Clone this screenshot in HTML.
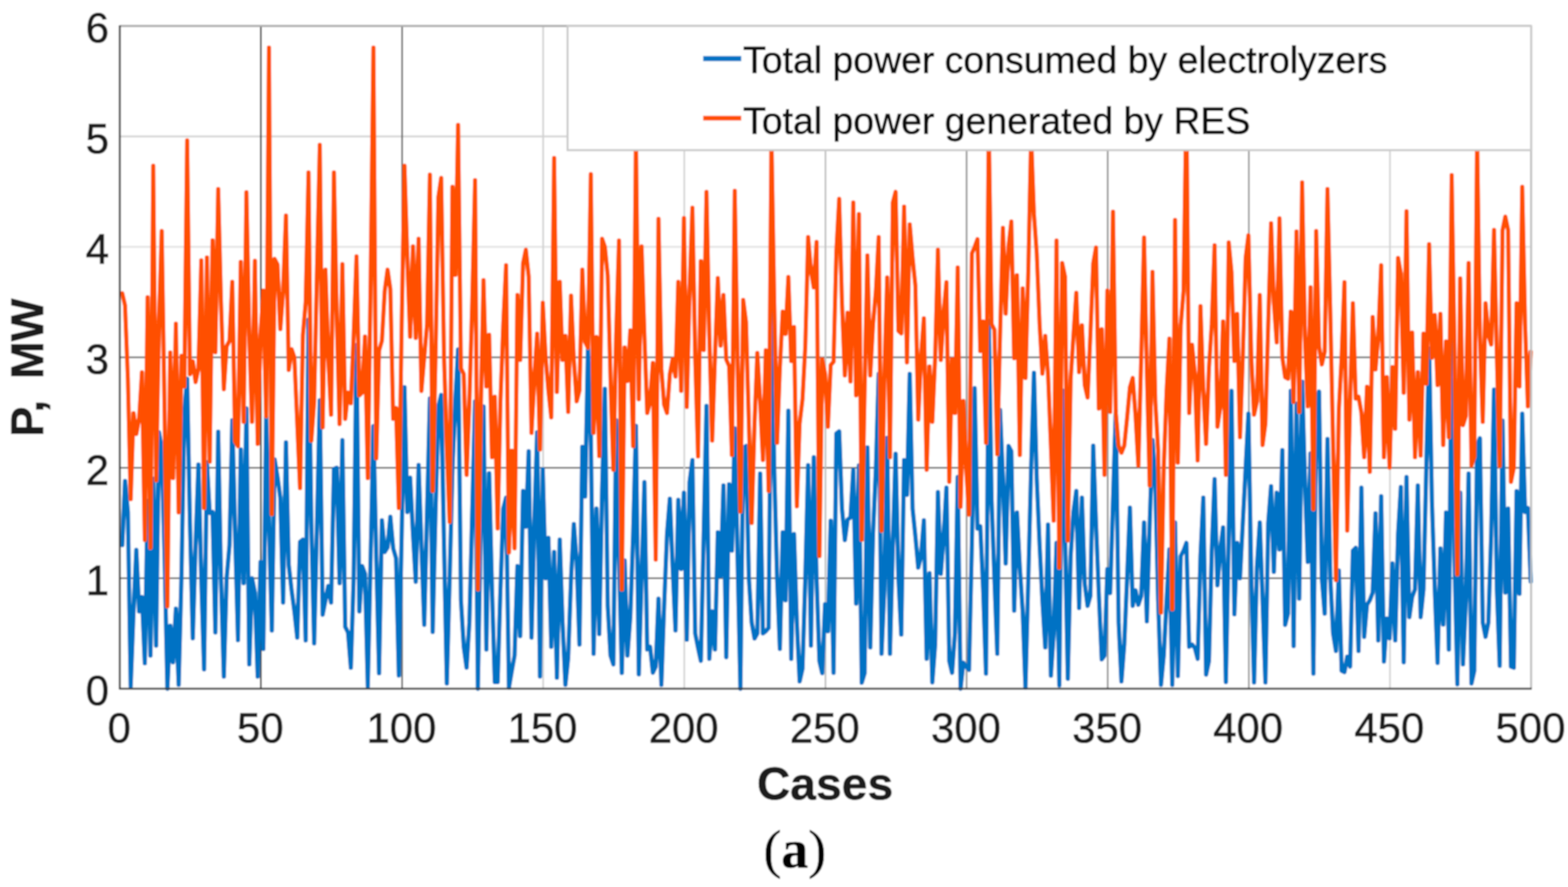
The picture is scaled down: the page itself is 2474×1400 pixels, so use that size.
<!DOCTYPE html>
<html><head><meta charset="utf-8"><title>Figure (a)</title>
<style>
html,body{margin:0;padding:0;background:#fff;}
body{width:2474px;height:1400px;overflow:hidden;}
svg{display:block;}
text{font-family:"Liberation Sans",sans-serif;fill:#1a1a1a;}
.tick{font-size:66px;stroke:#1a1a1a;stroke-width:1.1px;}
.lab{font-size:72px;font-weight:bold;fill:#1c1c1c;stroke:#1c1c1c;stroke-width:0.8px;}
.leg{font-size:59px;fill:#0a0a0a;stroke:#0a0a0a;stroke-width:0.9px;}
.cap{font-family:"Liberation Serif",serif;font-size:85px;fill:#000;stroke:#000;stroke-width:0.6px;}
</style></head><body>
<svg width="2474" height="1400" viewBox="0 0 2474 1400">
<defs><filter id="soft" x="0" y="0" width="2474" height="1400" filterUnits="userSpaceOnUse"><feGaussianBlur stdDeviation="0.8"/></filter></defs>
<g filter="url(#soft)">
<rect x="0" y="0" width="2474" height="1400" fill="#fff"/>
<g id="grid"><line x1="189.0" x2="2415.8" y1="215.3" y2="215.3" stroke="#d8d8d8" stroke-width="3.2"/><line x1="189.0" x2="2415.8" y1="389.7" y2="389.7" stroke="#e6e6e6" stroke-width="3.2"/><line x1="189.0" x2="2415.8" y1="564.0" y2="564.0" stroke="#606060" stroke-width="2.6"/><line x1="189.0" x2="2415.8" y1="738.3" y2="738.3" stroke="#606060" stroke-width="2.6"/><line x1="189.0" x2="2415.8" y1="912.7" y2="912.7" stroke="#606060" stroke-width="2.6"/><line y1="41.0" y2="1087.0" x1="411.7" x2="411.7" stroke="#303030" stroke-width="2.6"/><line y1="41.0" y2="1087.0" x1="634.4" x2="634.4" stroke="#626262" stroke-width="2.6"/><line y1="41.0" y2="1087.0" x1="857.0" x2="857.0" stroke="#d0d0d0" stroke-width="2.6"/><line y1="41.0" y2="1087.0" x1="1079.7" x2="1079.7" stroke="#d2d2d2" stroke-width="2.6"/><line y1="41.0" y2="1087.0" x1="1302.4" x2="1302.4" stroke="#bcbcbc" stroke-width="2.6"/><line y1="41.0" y2="1087.0" x1="1525.1" x2="1525.1" stroke="#8c8c8c" stroke-width="2.6"/><line y1="41.0" y2="1087.0" x1="1747.8" x2="1747.8" stroke="#8c8c8c" stroke-width="2.6"/><line y1="41.0" y2="1087.0" x1="1970.4" x2="1970.4" stroke="#969696" stroke-width="2.6"/><line y1="41.0" y2="1087.0" x1="2193.1" x2="2193.1" stroke="#d2d2d2" stroke-width="2.6"/></g>
<g fill="none" stroke-linejoin="round" stroke-linecap="round">
<polyline stroke="#0072c4" stroke-width="6.9" points="192.9,860.4 197.3,759.3 201.8,808.1 206.2,1083.5 210.7,965.0 215.1,868.0 219.6,965.0 224.0,942.3 228.5,1046.9 232.9,790.6 237.4,1034.7 241.8,755.8 246.3,1019.0 250.8,682.5 255.2,707.0 259.7,877.8 264.1,1087.0 268.6,987.6 273.0,1045.2 277.5,960.6 281.9,1080.9 286.4,905.7 290.8,651.2 295.3,598.0 299.7,825.5 304.2,1007.5 308.6,860.4 313.1,733.1 317.6,912.7 322.0,1056.5 326.5,729.6 330.9,809.8 335.4,808.1 339.8,998.1 344.3,681.5 348.7,912.7 353.2,1067.8 357.6,912.7 362.1,860.4 366.5,663.4 371.0,842.9 375.5,1010.3 379.9,709.4 384.4,920.5 388.8,644.7 393.3,1048.6 397.7,912.7 402.2,935.3 406.6,1067.8 411.1,887.0 415.5,1024.2 420.0,658.1 424.4,825.5 428.9,995.1 433.3,725.1 437.8,752.3 442.3,785.4 446.7,951.0 451.2,698.2 455.6,891.7 460.1,931.8 464.5,965.0 469.0,1006.3 473.4,855.1 477.9,851.6 482.3,1010.8 486.8,504.7 491.2,825.5 495.7,1015.5 500.2,825.5 504.6,632.0 509.1,970.2 513.5,947.5 518.0,924.9 522.4,951.0 526.9,740.1 531.3,738.3 535.8,920.5 540.2,694.8 544.7,989.4 549.1,998.1 553.6,1053.9 558.0,912.7 562.5,544.8 567.0,965.0 571.4,893.5 575.9,905.7 580.3,1083.5 584.8,877.8 589.2,672.6 593.7,877.8 598.1,1062.6 602.6,821.3 607.0,871.3 611.5,863.9 615.9,815.7 620.4,865.6 624.9,881.3 629.3,1066.1 633.8,842.9 638.2,611.1 642.7,808.1 647.1,754.0 651.6,842.9 656.0,918.2 660.5,734.0 664.9,860.4 669.4,986.2 673.8,808.1 678.3,629.0 682.7,997.4 687.2,808.1 691.7,642.5 696.1,623.3 700.6,860.4 705.0,1078.8 709.5,912.7 713.9,738.3 718.4,633.7 722.8,551.8 727.3,947.5 731.7,1020.8 736.2,1053.9 740.6,982.4 745.1,808.1 749.6,633.7 754.0,1087.0 758.5,825.5 762.9,641.6 767.4,1025.1 771.8,747.0 776.3,930.1 780.7,1076.5 785.2,1076.5 789.6,930.1 794.1,802.8 798.5,785.4 803.0,1085.3 807.5,1059.1 811.9,1034.7 816.4,893.5 820.8,1004.0 825.3,774.9 829.7,831.3 834.2,712.2 838.6,1006.3 843.1,825.5 847.5,682.5 852.0,1067.8 856.4,740.8 860.9,912.7 865.3,849.0 869.8,1020.8 874.3,871.3 878.7,1069.6 883.2,851.6 887.6,982.4 892.1,1080.9 896.5,1038.2 901.0,912.7 905.4,827.2 909.9,886.5 914.3,1017.3 918.8,705.2 923.2,783.7 927.7,549.2 932.2,686.0 936.6,1031.9 941.1,802.8 945.5,1000.7 950.0,773.2 954.4,613.7 958.9,956.2 963.3,1034.7 967.8,1048.6 972.2,663.4 976.7,877.8 981.1,1062.1 985.6,884.8 990.0,1034.7 994.5,973.7 999.0,842.9 1003.4,672.1 1007.9,1064.3 1012.3,912.7 1016.8,761.0 1021.2,1025.1 1025.7,1020.8 1030.1,1061.7 1034.6,1052.1 1039.0,944.9 1043.5,1080.9 1047.9,956.2 1052.4,842.9 1056.9,787.1 1061.3,895.2 1065.8,995.1 1070.2,788.9 1074.7,898.2 1079.1,777.6 1083.6,1009.6 1088.0,761.0 1092.5,726.1 1096.9,999.8 1101.4,1022.5 1105.8,1043.1 1110.3,842.9 1114.7,640.7 1119.2,1039.9 1123.7,965.0 1128.1,1025.1 1132.6,840.1 1137.0,909.2 1141.5,766.2 1145.9,1037.3 1150.4,764.5 1154.8,869.1 1159.3,676.1 1163.7,877.8 1168.2,1087.0 1172.6,707.0 1177.1,704.0 1181.6,912.7 1186.0,982.4 1190.5,1007.7 1194.9,999.8 1199.4,747.4 1203.8,999.8 1208.3,996.3 1212.7,991.1 1217.2,485.5 1221.6,738.3 1226.1,912.7 1230.5,1024.2 1235.0,840.1 1239.4,947.5 1243.9,648.2 1248.4,1039.9 1252.8,842.9 1257.3,982.4 1261.7,1075.5 1266.2,1055.6 1270.6,912.7 1275.1,734.1 1279.5,1019.0 1284.0,721.8 1288.4,912.7 1292.9,1043.4 1297.3,1062.6 1301.8,953.8 1306.3,996.3 1310.7,822.0 1315.2,1061.9 1319.6,684.3 1324.1,680.8 1328.5,802.8 1333.0,852.5 1337.4,820.3 1341.9,816.8 1346.3,741.8 1350.8,952.8 1355.2,734.8 1359.7,1077.6 1364.2,1062.6 1368.6,706.1 1373.1,1021.8 1377.5,842.9 1382.0,738.3 1386.4,590.2 1390.9,1031.9 1395.3,930.1 1399.8,691.3 1404.2,1031.9 1408.7,860.4 1413.1,716.2 1417.6,912.7 1422.0,1001.6 1426.5,726.1 1431.0,781.0 1435.4,590.2 1439.9,802.8 1444.3,846.4 1448.8,895.9 1453.2,877.8 1457.7,821.3 1462.1,1039.9 1466.6,904.8 1471.0,1077.0 1475.5,1017.3 1479.9,776.7 1484.4,905.7 1488.9,846.4 1493.3,769.7 1497.8,1043.4 1502.2,1061.9 1506.7,999.8 1511.1,753.0 1515.6,1087.0 1520.0,1046.0 1524.5,1052.1 1528.9,1057.4 1533.4,860.4 1537.8,612.8 1542.3,834.2 1546.7,830.7 1551.2,930.1 1555.7,1063.1 1560.1,506.5 1564.6,790.6 1569.0,912.7 1573.5,1031.9 1577.9,647.2 1582.4,755.8 1586.8,889.3 1591.3,704.0 1595.7,712.2 1600.2,963.9 1604.6,808.9 1609.1,895.2 1613.6,965.0 1618.0,1085.3 1622.5,912.7 1626.9,738.3 1631.4,588.4 1635.8,755.8 1640.3,860.4 1644.7,947.5 1649.2,1021.8 1653.6,827.9 1658.1,1066.4 1662.5,999.8 1667.0,856.9 1671.4,1081.8 1675.9,616.3 1680.4,842.9 1684.8,1071.3 1689.3,877.8 1693.7,808.1 1698.2,774.9 1702.6,959.7 1707.1,785.4 1711.5,921.4 1716.0,956.2 1720.4,940.6 1724.9,703.5 1729.3,825.5 1733.8,938.8 1738.3,1040.8 1742.7,1034.7 1747.2,898.2 1751.6,936.0 1756.1,790.6 1760.5,648.2 1765.0,982.4 1769.4,1075.5 1773.9,1017.3 1778.3,912.7 1782.8,801.1 1787.2,956.2 1791.7,931.8 1796.1,954.5 1800.6,940.6 1805.1,824.6 1809.5,980.7 1814.0,825.5 1818.4,694.8 1822.9,762.7 1827.3,947.5 1831.8,1080.9 1836.2,1034.7 1840.7,947.5 1845.1,867.3 1849.6,1080.9 1854.0,824.6 1858.5,1067.0 1863.0,877.8 1867.4,869.1 1871.9,856.9 1876.3,1020.8 1880.8,1017.3 1885.2,1022.5 1889.7,1039.9 1894.1,877.8 1898.6,785.4 1903.0,1064.7 1907.5,1043.4 1911.9,869.1 1916.4,756.3 1920.9,923.8 1925.3,869.1 1929.8,832.5 1934.2,1076.5 1938.7,842.9 1943.1,617.0 1947.6,969.5 1952.0,856.9 1956.5,912.7 1960.9,825.5 1965.4,738.3 1969.8,652.9 1974.3,912.7 1978.7,1077.1 1983.2,895.2 1987.7,824.6 1992.1,947.5 1996.6,1077.1 2001.0,825.5 2005.5,767.4 2009.9,902.6 2014.4,777.6 2018.8,867.3 2023.3,710.4 2027.7,986.2 2032.2,968.5 2036.6,617.0 2041.1,1019.7 2045.6,637.2 2050.0,944.9 2054.5,602.4 2058.9,755.8 2063.4,887.0 2067.8,715.7 2072.3,1063.1 2076.7,633.7 2081.2,618.0 2085.6,912.7 2090.1,968.5 2094.5,693.0 2099.0,912.7 2103.4,999.8 2107.9,1027.4 2112.4,900.5 2116.8,1058.6 2121.3,1060.8 2125.7,1036.4 2130.2,1052.1 2134.6,869.1 2139.1,864.7 2143.5,1027.4 2148.0,769.7 2152.4,1005.1 2156.9,954.5 2161.3,947.5 2165.8,935.3 2170.3,810.2 2174.7,1010.8 2179.2,783.1 2183.6,1044.1 2188.1,976.1 2192.5,1007.5 2197.0,889.3 2201.4,1010.8 2205.9,842.9 2210.3,768.7 2214.8,1045.2 2219.2,753.0 2223.7,974.0 2228.1,942.3 2232.6,930.1 2237.1,766.2 2241.5,974.0 2246.0,930.1 2250.4,738.3 2254.9,550.1 2259.3,790.6 2263.8,930.1 2268.2,1046.4 2272.7,865.6 2277.1,985.9 2281.6,808.9 2286.0,1025.1 2290.5,492.5 2295.0,877.8 2299.4,1080.0 2303.9,777.6 2308.3,1048.6 2312.8,947.5 2317.2,747.4 2321.7,1078.8 2326.1,1059.1 2330.6,703.5 2335.0,691.8 2339.5,982.4 2343.9,1005.1 2348.4,982.4 2352.8,842.9 2357.3,614.9 2361.8,930.1 2366.2,1050.9 2370.7,663.9 2375.1,935.3 2379.6,802.8 2384.0,1052.1 2388.5,1053.9 2392.9,775.3 2397.4,937.1 2401.8,652.9 2406.3,808.1 2410.7,802.0 2415.2,917.9"/>
<polyline stroke="#ff5004" stroke-width="6.8" points="192.9,462.9 197.3,482.1 201.8,598.9 206.2,787.8 210.7,652.2 215.1,685.0 219.6,659.9 224.0,587.7 228.5,852.3 232.9,469.2 237.4,864.6 241.8,261.7 246.3,758.2 250.8,511.7 255.2,364.6 259.7,651.2 264.1,956.9 268.6,556.3 273.0,754.7 277.5,511.0 281.9,808.8 286.4,561.6 290.8,610.0 295.3,221.6 299.7,590.8 304.2,570.3 308.6,603.1 313.1,581.4 317.6,410.8 322.0,801.8 326.5,406.4 330.9,728.6 335.4,379.4 339.8,556.0 344.3,298.3 348.7,476.8 353.2,614.4 357.6,546.6 362.1,537.9 366.5,444.8 371.0,696.5 375.5,704.2 379.9,413.4 384.4,665.8 388.8,303.5 393.3,529.1 397.7,665.8 402.2,411.6 406.6,700.7 411.1,529.1 415.5,458.7 420.0,657.1 424.4,75.2 428.9,811.4 433.3,408.7 437.8,417.6 442.3,519.4 446.7,459.4 451.2,340.2 455.6,583.9 460.1,551.1 464.5,564.0 469.0,668.6 473.4,770.4 477.9,529.1 482.3,476.8 486.8,272.2 491.2,695.4 495.7,633.7 500.2,424.5 504.6,228.6 509.1,674.5 513.5,425.6 518.0,564.0 522.4,654.5 526.9,272.2 531.3,494.3 535.8,669.3 540.2,416.9 544.7,661.1 549.1,619.6 553.6,636.5 558.0,529.1 562.5,404.7 567.0,624.0 571.4,619.8 575.9,531.1 580.3,754.7 584.8,442.0 589.2,75.2 593.7,723.3 598.1,553.5 602.6,537.9 607.0,459.4 611.5,425.6 615.9,455.9 620.4,661.1 624.9,644.0 629.3,801.8 633.8,511.7 638.2,261.7 642.7,407.1 647.1,531.6 651.6,389.0 656.0,533.3 660.5,376.8 664.9,617.0 669.4,564.0 673.8,511.7 678.3,275.7 682.7,774.8 687.2,564.0 691.7,311.2 696.1,280.9 700.6,564.0 705.0,703.5 709.5,823.6 713.9,294.8 718.4,433.9 722.8,197.2 727.3,581.4 731.7,590.2 736.2,749.5 740.6,633.7 745.1,476.8 749.6,284.4 754.0,930.1 758.5,651.2 762.9,442.1 767.4,610.0 771.8,528.4 776.3,721.6 780.7,626.1 785.2,834.2 789.6,633.7 794.1,511.7 798.5,418.6 803.0,872.0 807.5,711.5 811.9,865.4 816.4,465.7 820.8,568.2 825.3,415.8 829.7,394.2 834.2,436.7 838.6,683.2 843.1,598.9 847.5,526.7 852.0,709.4 856.4,477.9 860.9,564.0 865.3,616.3 869.8,658.8 874.3,249.5 878.7,618.7 883.2,444.8 887.6,568.2 892.1,530.2 896.5,650.1 901.0,466.7 905.4,567.5 909.9,633.4 914.3,616.3 918.8,425.6 923.2,539.6 927.7,549.0 932.2,275.0 936.6,683.2 941.1,531.9 945.5,719.9 950.0,376.8 954.4,389.7 958.9,435.0 963.3,598.9 967.8,741.5 972.2,529.1 976.7,379.7 981.1,930.1 985.6,548.5 990.0,601.3 994.5,521.5 999.0,704.2 1003.4,214.6 1007.9,630.1 1012.3,389.0 1016.8,529.1 1021.2,651.9 1025.7,633.7 1030.1,572.9 1034.6,883.2 1039.0,345.4 1043.5,581.4 1047.9,639.0 1052.4,651.9 1056.9,590.2 1061.3,566.8 1065.8,594.3 1070.2,444.8 1074.7,617.0 1079.1,344.2 1083.6,642.3 1088.0,459.4 1092.5,328.0 1096.9,564.0 1101.4,720.4 1105.8,412.2 1110.3,552.5 1114.7,302.8 1119.2,529.1 1123.7,695.4 1128.1,564.0 1132.6,438.8 1137.0,545.5 1141.5,465.7 1145.9,567.5 1150.4,577.9 1154.8,718.1 1159.3,301.1 1163.7,564.0 1168.2,807.4 1172.6,473.3 1177.1,508.2 1181.6,668.6 1186.0,825.3 1190.5,668.6 1194.9,557.2 1199.4,633.7 1203.8,726.0 1208.3,552.8 1212.7,774.8 1217.2,214.6 1221.6,476.8 1226.1,698.9 1230.5,581.4 1235.0,491.8 1239.4,527.2 1243.9,437.1 1248.4,569.9 1252.8,516.2 1257.3,799.2 1261.7,668.6 1266.2,630.2 1270.6,546.6 1275.1,374.2 1279.5,426.3 1284.0,453.6 1288.4,382.0 1292.9,877.6 1297.3,566.8 1301.8,590.2 1306.3,673.5 1310.7,576.2 1315.2,571.0 1319.6,396.6 1324.1,314.0 1328.5,476.8 1333.0,592.6 1337.4,493.6 1341.9,602.2 1346.3,319.6 1350.8,624.0 1355.2,337.9 1359.7,852.0 1364.2,616.3 1368.6,403.1 1373.1,592.6 1377.5,511.7 1382.0,459.4 1386.4,374.2 1390.9,837.5 1395.3,598.9 1399.8,437.8 1404.2,721.6 1408.7,319.9 1413.1,302.8 1417.6,522.2 1422.0,526.3 1426.5,326.2 1431.0,572.0 1435.4,354.1 1439.9,407.1 1444.3,450.7 1448.8,662.3 1453.2,564.0 1457.7,502.3 1462.1,741.5 1466.6,578.5 1471.0,665.8 1475.5,564.0 1479.9,394.2 1484.4,568.2 1488.9,494.3 1493.3,445.5 1497.8,760.5 1502.2,566.8 1506.7,651.9 1511.1,422.1 1515.6,800.0 1520.0,633.0 1524.5,738.3 1528.9,812.3 1533.4,400.1 1537.8,389.7 1542.3,377.5 1546.7,554.2 1551.2,507.5 1555.7,698.9 1560.1,197.2 1564.6,511.7 1569.0,520.4 1573.5,716.9 1577.9,529.1 1582.4,359.7 1586.8,495.0 1591.3,389.7 1595.7,349.6 1600.2,565.4 1604.6,434.3 1609.1,718.1 1613.6,455.2 1618.0,596.6 1622.5,424.5 1626.9,214.6 1631.4,337.4 1635.8,400.1 1640.3,511.7 1644.7,589.8 1649.2,530.2 1653.6,590.2 1658.1,703.5 1662.5,821.8 1667.0,379.7 1671.4,895.9 1675.9,415.1 1680.4,436.7 1684.8,853.2 1689.3,598.9 1693.7,529.1 1698.2,462.2 1702.6,587.4 1707.1,513.4 1711.5,607.6 1716.0,627.5 1720.4,529.1 1724.9,415.8 1729.3,390.7 1733.8,644.9 1738.3,519.7 1742.7,749.5 1747.2,458.7 1751.6,650.1 1756.1,334.1 1760.5,651.2 1765.0,703.5 1769.4,714.6 1773.9,703.5 1778.3,659.9 1782.8,611.1 1787.2,596.4 1791.7,656.4 1796.1,734.8 1800.6,564.0 1805.1,375.0 1809.5,581.4 1814.0,766.1 1818.4,429.1 1822.9,633.7 1827.3,710.4 1831.8,966.9 1836.2,738.3 1840.7,616.3 1845.1,534.5 1849.6,961.3 1854.0,347.1 1858.5,730.3 1863.0,513.4 1867.4,459.4 1871.9,162.3 1876.3,651.9 1880.8,544.1 1885.2,590.2 1889.7,726.8 1894.1,483.1 1898.6,616.3 1903.0,700.7 1907.5,581.4 1911.9,511.7 1916.4,387.2 1920.9,673.5 1925.3,644.2 1929.8,507.5 1934.2,749.5 1938.7,382.7 1943.1,429.8 1947.6,569.9 1952.0,495.3 1956.5,690.2 1960.9,564.0 1965.4,407.1 1969.8,371.5 1974.3,564.0 1978.7,654.5 1983.2,633.7 1987.7,465.7 1992.1,702.4 1996.6,668.6 2001.0,511.7 2005.5,352.4 2009.9,476.8 2014.4,540.3 2018.8,344.7 2023.3,564.0 2027.7,595.4 2032.2,597.8 2036.6,491.8 2041.1,634.4 2045.6,365.3 2050.0,650.1 2054.5,287.9 2058.9,529.1 2063.4,641.4 2067.8,453.5 2072.3,803.5 2076.7,364.6 2081.2,546.6 2085.6,575.2 2090.1,555.3 2094.5,298.3 2099.0,494.3 2103.4,703.5 2107.9,915.6 2112.4,647.7 2116.8,564.0 2121.3,445.5 2125.7,837.5 2130.2,633.7 2134.6,478.6 2139.1,629.2 2143.5,626.1 2148.0,651.2 2152.4,721.6 2156.9,610.4 2161.3,744.8 2165.8,500.5 2170.3,583.2 2174.7,529.1 2179.2,418.6 2183.6,721.6 2188.1,595.2 2192.5,738.2 2197.0,579.5 2201.4,676.8 2205.9,407.1 2210.3,431.5 2214.8,620.0 2219.2,333.5 2223.7,662.3 2228.1,524.9 2232.6,721.6 2237.1,587.4 2241.5,719.2 2246.0,526.7 2250.4,605.5 2254.9,385.5 2259.3,564.7 2263.8,497.1 2268.2,607.8 2272.7,495.3 2277.1,702.4 2281.6,538.9 2286.0,690.2 2290.5,276.5 2295.0,564.0 2299.4,906.4 2303.9,439.5 2308.3,671.0 2312.8,656.4 2317.2,415.1 2321.7,734.8 2326.1,720.9 2330.6,214.6 2335.0,529.1 2339.5,665.8 2343.9,478.6 2348.4,529.1 2352.8,543.8 2357.3,362.8 2361.8,564.0 2366.2,735.5 2370.7,363.5 2375.1,341.9 2379.6,363.5 2384.0,760.5 2388.5,738.3 2392.9,478.6 2397.4,610.0 2401.8,294.8 2406.3,511.7 2410.7,641.4 2415.2,555.3"/>
</g>
<g id="axes" fill="none">
<line x1="189.0" x2="2415.8" y1="41.0" y2="41.0" stroke="#adadad" stroke-width="3.4"/>
<line x1="2415.8" x2="2415.8" y1="41.0" y2="1087.0" stroke="#bebebe" stroke-width="3.2"/>
<line x1="189.0" x2="189.0" y1="40.0" y2="1088.0" stroke="#3a3a3a" stroke-width="3"/>
<line x1="188.0" x2="2416.8" y1="1087.0" y2="1087.0" stroke="#3a3a3a" stroke-width="3"/>
</g>
<g id="legend">
<rect x="895.5" y="41" width="1520.3" height="196" fill="#fff" stroke="#cacaca" stroke-width="3.2"/>
<line x1="1109.5" x2="1169.5" y1="92.4" y2="92.4" stroke="#0072c4" stroke-width="8" stroke-linecap="butt"/>
<line x1="1109.5" x2="1169.5" y1="186.4" y2="186.4" stroke="#ff5004" stroke-width="7.5" stroke-linecap="butt"/>
<text class="leg" x="1172.5" y="115.3">Total power consumed by electrolyzers</text>
<text class="leg" x="1172.5" y="210.8">Total power generated by RES</text>
</g>
<g class="tick"><text x="188.0" y="1172.3" text-anchor="middle">0</text><text x="410.7" y="1172.3" text-anchor="middle">50</text><text x="633.4" y="1172.3" text-anchor="middle">100</text><text x="856.0" y="1172.3" text-anchor="middle">150</text><text x="1078.7" y="1172.3" text-anchor="middle">200</text><text x="1301.4" y="1172.3" text-anchor="middle">250</text><text x="1524.1" y="1172.3" text-anchor="middle">300</text><text x="1746.8" y="1172.3" text-anchor="middle">350</text><text x="1969.4" y="1172.3" text-anchor="middle">400</text><text x="2192.1" y="1172.3" text-anchor="middle">450</text><text x="2414.8" y="1172.3" text-anchor="middle">500</text><text x="172" y="1113.2" text-anchor="end">0</text><text x="172" y="938.9" text-anchor="end">1</text><text x="172" y="764.5" text-anchor="end">2</text><text x="172" y="590.2" text-anchor="end">3</text><text x="172" y="415.9" text-anchor="end">4</text><text x="172" y="241.5" text-anchor="end">5</text><text x="172" y="67.2" text-anchor="end">6</text></g>
<text class="lab" x="1301.7" y="1261.5" text-anchor="middle" style="font-size:73px">Cases</text>
<text class="lab" transform="translate(68,580.3) rotate(-90)" text-anchor="middle" style="font-size:71.5px;word-spacing:13px">P, MW</text>
<text class="cap" x="1254" y="1369" text-anchor="middle">(<tspan font-weight="bold">a</tspan>)</text>
</g>
</svg>
</body></html>
